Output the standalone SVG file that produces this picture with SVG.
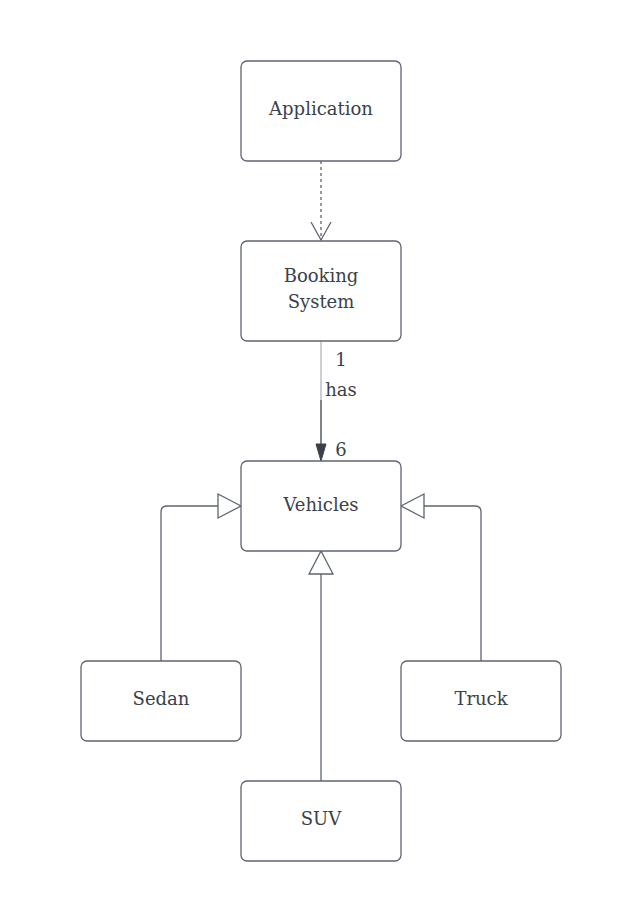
<svg xmlns="http://www.w3.org/2000/svg" width="621" height="921" viewBox="0 0 621 921">
<style>
.node rect{fill:#ffffff;stroke:#5e6470;stroke-width:1.3}
.node text,.lbl{font-family:"DejaVu Serif","Liberation Serif",serif;font-size:18px;fill:#3a414a;text-anchor:middle}
.conn{fill:none;stroke:#5e6470;stroke-width:1.3}
.tri{fill:#ffffff;stroke:#5e6470;stroke-width:1.3;stroke-linejoin:miter}
</style>
<rect width="621" height="921" fill="#ffffff"/>
<g id="connectors">
<path class="conn" d="M321 161 V240" stroke-dasharray="3 3"/>
<path class="conn" d="M311 222 L321 240 L331 222"/>
<path d="M321 341 V400" stroke="#9a9ea6" stroke-width="1" fill="none"/>
<path d="M321 400 V446" stroke="#3a414a" stroke-width="1.3" fill="none"/>
<path d="M316 444 L321 461 L326 444 Z" fill="#3a414a" stroke="#3a414a" stroke-width="1"/>
<text class="lbl" x="341" y="366">1</text>
<text class="lbl" x="341" y="396">has</text>
<text class="lbl" x="341" y="456">6</text>
<path class="conn" d="M161 661 V512 Q161 506 167 506 H218"/>
<path class="tri" d="M218 494 L241 506 L218 518 Z"/>
<path class="conn" d="M481 661 V512 Q481 506 475 506 H424"/>
<path class="tri" d="M424 494 L401 506 L424 518 Z"/>
<path class="conn" d="M321 781 V574"/>
<path class="tri" d="M309 574 L321 551 L333 574 Z"/>
</g>
<g id="application" class="node"><rect x="241" y="61" width="160" height="100" rx="6"/><text x="321" y="115">Application</text></g>
<g id="booking-system" class="node"><rect x="241" y="241" width="160" height="100" rx="6"/><text x="321" y="282">Booking</text><text x="321" y="308">System</text></g>
<g id="vehicles" class="node"><rect x="241" y="461" width="160" height="90" rx="6"/><text x="321" y="511">Vehicles</text></g>
<g id="sedan" class="node"><rect x="81" y="661" width="160" height="80" rx="6"/><text x="161" y="705">Sedan</text></g>
<g id="truck" class="node"><rect x="401" y="661" width="160" height="80" rx="6"/><text x="481" y="705">Truck</text></g>
<g id="suv" class="node"><rect x="241" y="781" width="160" height="80" rx="6"/><text x="321" y="825">SUV</text></g>
</svg>
